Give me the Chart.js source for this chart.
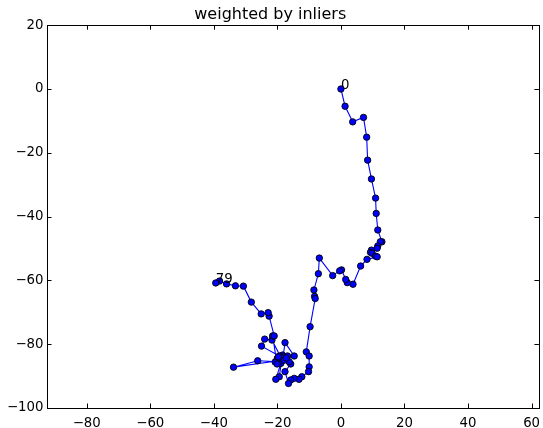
<!DOCTYPE html>
<html>
<head>
<meta charset="utf-8">
<title>weighted by inliers</title>
<script src="https://cdn.jsdelivr.net/npm/chart.js@4.4.0/dist/chart.umd.min.js"></script>
<style>
    html, body { margin: 0; padding: 0; background: #ffffff; }
    #wrap { width: 543px; height: 428px; position: relative; }
</style>
</head>
<body>
<div id="wrap"><canvas id="trackChart"></canvas></div>
<script>
// --- Track data (x, y per step, step 0 .. 79) ---
const pathX = [
    0.0, 1.3, 3.7, 7.1, 8.1, 8.4, 9.6, 10.9, 11.1, 11.6,
    12.9, 12.4, 11.6, 11.4, 9.6, 9.3, 9.8, 10.9, 11.4, 8.2,
    6.2, 3.8, 2.0, 1.5, 0.2, -0.4, -2.6, -6.8, -7.1, -8.5,
    -8.3, -8.1, -9.7, -10.9, -10.0, -10.0, -10.2, -12.3, -13.2, -14.7,
    -15.8, -16.5, -17.6, -15.8, -16.3, -18.6, -19.4, -20.5, -18.9, -20.0,
    -18.4, -16.8, -14.7, -17.6, -18.2, -19.4, -26.2, -33.8, -20.3, -19.4,
    -25.0, -24.0, -21.7, -18.8, -20.7, -17.9, -19.7, -17.2, -20.1, -21.5,
    -21.0, -22.6, -22.9, -25.1, -28.2, -30.7, -33.2, -36.0, -38.2, -39.4
];
const pathY = [
    0.0, -5.4, -10.3, -8.9, -15.1, -22.3, -28.2, -34.2, -39.0, -44.2,
    -47.9, -47.9, -49.2, -49.9, -50.5, -51.2, -51.5, -52.4, -52.6, -53.4,
    -55.5, -61.2, -60.7, -59.7, -56.7, -57.0, -58.5, -53.0, -57.9, -63.0,
    -65.0, -65.7, -74.5, -82.4, -83.7, -87.1, -88.6, -90.2, -91.0, -90.7,
    -91.2, -92.3, -88.6, -86.2, -85.5, -84.7, -90.2, -91.0, -86.0, -84.4,
    -83.4, -83.7, -83.7, -79.5, -84.0, -85.5, -85.2, -87.2, -85.3, -83.7,
    -80.6, -78.4, -78.7, -84.3, -85.6, -85.0, -84.0, -84.3, -86.2, -77.4,
    -77.4, -71.2, -70.1, -70.5, -66.8, -61.8, -61.7, -61.1, -60.2, -60.8
];

// steps that get a number written next to them
const labelledSteps = [0, 79];

// axis ticks and limits
const xTicks = [-80, -60, -40, -20, 0, 20, 40, 60];
const yTicks = [-100, -80, -60, -40, -20, 0, 20];
const xLimits = [-92.5, 62.3];
const yLimits = [-100, 20];

const points = pathX.map((x, i) => ({ x: x, y: pathY[i] }));

const fmtTick = v => (v < 0 ? '\u2212' + Math.abs(v) : String(v));

Chart.defaults.font.family = "'DejaVu Sans', sans-serif";
Chart.defaults.color = '#000000';

// frame + inward ticks on all four sides, and the step numbers
const framePlugin = {
    id: 'frameTicks',
    afterDatasetsDraw(chart) {
        const ctx = chart.ctx;
        const a = chart.chartArea;
        const xs = chart.scales.x;
        const ys = chart.scales.y;
        const len = 4.5;

        ctx.save();
        ctx.strokeStyle = '#000000';
        ctx.lineWidth = 1;
        ctx.beginPath();
        xTicks.forEach(v => {
            const px = Math.round(xs.getPixelForValue(v)) + 0.5;
            ctx.moveTo(px, a.bottom); ctx.lineTo(px, a.bottom - len);
            ctx.moveTo(px, a.top); ctx.lineTo(px, a.top + len);
        });
        yTicks.forEach(v => {
            const py = Math.round(ys.getPixelForValue(v)) + 0.5;
            ctx.moveTo(a.left, py); ctx.lineTo(a.left + len, py);
            ctx.moveTo(a.right, py); ctx.lineTo(a.right - len, py);
        });
        ctx.stroke();
        ctx.strokeRect(Math.round(a.left) + 0.5, Math.round(a.top) + 0.5,
            Math.round(a.right - a.left), Math.round(a.bottom - a.top));

        // step numbers, anchored at the point (left / baseline)
        ctx.fillStyle = '#000000';
        ctx.font = "13.3px 'DejaVu Sans', sans-serif";
        ctx.textAlign = 'left';
        ctx.textBaseline = 'alphabetic';
        labelledSteps.forEach(i => {
            ctx.fillText(String(i), xs.getPixelForValue(pathX[i]), ys.getPixelForValue(pathY[i]));
        });
        ctx.restore();
    }
};

new Chart(document.getElementById('trackChart'), {
    type: 'scatter',
    data: {
        datasets: [{
            data: points,
            showLine: true,
            borderColor: '#0000ff',
            borderWidth: 1.1,
            pointRadius: 3.2,
            pointHoverRadius: 3.2,
            pointBackgroundColor: '#0000ff',
            pointBorderColor: '#000000',
            pointBorderWidth: 0.9,
            tension: 0
        }]
    },
    options: {
        responsive: true,
        maintainAspectRatio: false,
        animation: false,
        layout: { padding: { left: 0, right: 2.5, top: 0, bottom: 0 } },
        plugins: {
            legend: { display: false },
            tooltip: { enabled: false },
            title: {
                display: true,
                text: 'weighted by inliers',
                color: '#000000',
                font: { size: 16, weight: 'normal' },
                padding: { top: 5, bottom: 1 }
            }
        },
        scales: {
            x: {
                type: 'linear',
                min: xLimits[0],
                max: xLimits[1],
                grid: { display: false, drawTicks: false, tickLength: 0 },
                border: { display: false },
                ticks: { font: { size: 13.3 }, color: '#000000', padding: 8, maxRotation: 0, callback: fmtTick },
                afterBuildTicks: scale => { scale.ticks = xTicks.map(v => ({ value: v })); },
                afterFit: scale => {
                    scale.height = 20;
                    scale.paddingLeft = 0;
                    scale.paddingRight = 0;
                }
            },
            y: {
                type: 'linear',
                min: yLimits[0],
                max: yLimits[1],
                grid: { display: false, drawTicks: false, tickLength: 0 },
                border: { display: false },
                ticks: { font: { size: 13.3 }, color: '#000000', padding: 3.5, callback: fmtTick },
                afterBuildTicks: scale => { scale.ticks = yTicks.map(v => ({ value: v })); },
                afterFit: scale => {
                    scale.width = 47;
                    scale.paddingTop = 0;
                    scale.paddingBottom = 0;
                }
            }
        }
    },
    plugins: [framePlugin]
});
</script>
</body>
</html>
